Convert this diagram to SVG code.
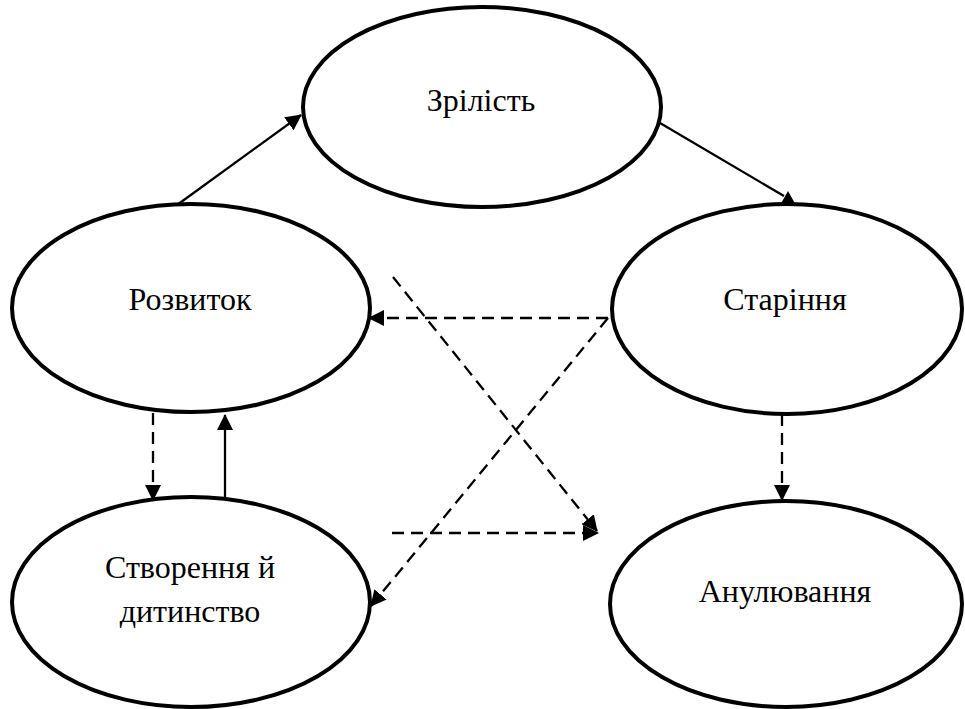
<svg xmlns="http://www.w3.org/2000/svg" width="965" height="709" viewBox="0 0 965 709">
<style>
.node ellipse{fill:#fff;stroke:#000;stroke-width:4}
.node text{font-family:"Liberation Serif","Times New Roman","DejaVu Serif",serif;font-size:32px;fill:#000;text-anchor:middle}
.c{stroke:#000;stroke-width:2.3;fill:none}
.d{stroke-dasharray:12,7}
</style>
<defs>
<marker id="ah" markerUnits="userSpaceOnUse" markerWidth="16" markerHeight="16" refX="15" refY="8" orient="auto">
<path d="M0,0 L16,8 L0,16 Z" fill="#000"/>
</marker>
</defs>
<rect width="965" height="709" fill="#fff"/>
<g id="connectors">
<line class="c" x1="177" y1="205" x2="301" y2="115" marker-end="url(#ah)"/>
<line class="c" x1="660" y1="123" x2="784" y2="196"/>
<polygon points="788,191 779,207 797,207" fill="#000"/>
<line class="c d" x1="608" y1="318" x2="369" y2="318" marker-end="url(#ah)"/>
<line class="c d" x1="608" y1="318" x2="371" y2="606" marker-end="url(#ah)"/>
<line class="c d" x1="393" y1="277" x2="597" y2="531" marker-end="url(#ah)"/>
<line class="c d" x1="392" y1="533" x2="598" y2="533" marker-end="url(#ah)"/>
<line class="c d" x1="153" y1="413" x2="153" y2="500" marker-end="url(#ah)"/>
<line class="c" x1="225" y1="499" x2="225" y2="415" marker-end="url(#ah)"/>
<line class="c d" x1="782" y1="414" x2="782" y2="500" marker-end="url(#ah)"/>
</g>
<g id="n-zrilist" class="node">
<ellipse cx="482" cy="107" rx="179" ry="100"/>
<text x="481" y="111">Зрілість</text>
</g>
<g id="n-rozvytok" class="node">
<ellipse cx="191" cy="308" rx="179" ry="104"/>
<text x="190" y="310">Розвиток</text>
</g>
<g id="n-starinnia" class="node">
<ellipse cx="787" cy="309" rx="175" ry="105"/>
<text x="785" y="310">Старіння</text>
</g>
<g id="n-stvorennia" class="node">
<ellipse cx="191" cy="602" rx="179" ry="105"/>
<text x="190" y="578">Створення й</text>
<text x="190" y="622">дитинство</text>
</g>
<g id="n-anuliuvannia" class="node">
<ellipse cx="786" cy="604" rx="176" ry="103"/>
<text x="785" y="602">Анулювання</text>
</g>
</svg>
